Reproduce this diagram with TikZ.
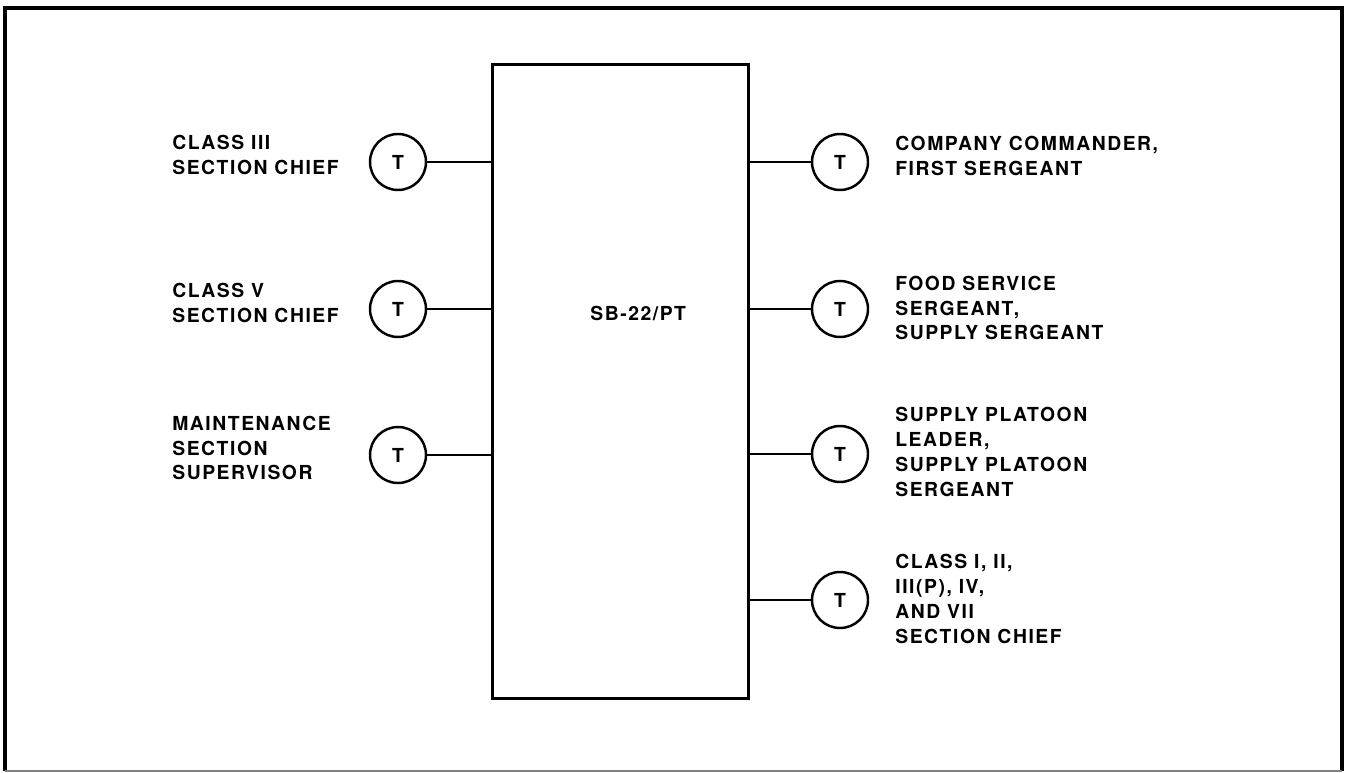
\documentclass[tikz,border=0pt]{standalone}
\usepackage{fontspec}
\setmainfont{TeX Gyre Heros}[LetterSpace=8]
\usetikzlibrary{positioning}
\newcommand{\lblfont}{\fontsize{11}{14.2}\selectfont\bfseries}

\begin{document}
\begin{tikzpicture}[
  x=0.02cm, y=-0.02cm,
  hub/.style={draw, line width=1.7pt, minimum width=5.14cm, minimum height=12.7cm, inner sep=0pt},
  phone/.style={draw, circle, line width=1.4pt, minimum size=1.12cm, inner sep=0pt, font=\lblfont},
  duty/.style={anchor=west, align=left, inner sep=0pt, font=\lblfont},
  wire/.style={line width=1.4pt}
]
\useasboundingbox (0,0) rectangle (1348,773);
% outer frame
\draw[line width=2.2pt] (5,771) -- (5,8) -- (1342,8) -- (1342,771);
\draw[gray, line width=0.6pt] (5,771) -- (1342,771);

% switchboard
\node[hub] (sb) at (620.5,381.5) {};
\node[duty] (sbname) at (590,313) {SB-22/PT};

% left telephones
\node[phone] (tl1) at (398,162) {T};
\node[phone] (tl2) at (398,309) {T};
\node[phone] (tl3) at (398,455) {T};
\node[duty] (ll1) at (172,155) {CLASS III\\SECTION CHIEF};
\node[duty] (ll2) at (172,303) {CLASS V\\SECTION CHIEF};
\node[duty] (ll3) at (172,448) {MAINTENANCE\\SECTION\\SUPERVISOR};

% right telephones
\node[phone] (tr1) at (840,162) {T};
\node[phone] (tr2) at (840,309) {T};
\node[phone] (tr3) at (840,454) {T};
\node[phone] (tr4) at (840,600) {T};
\node[duty] (rl1) at (895,156) {COMPANY COMMANDER,\\FIRST SERGEANT};
\node[duty] (rl2) at (895,308) {FOOD SERVICE\\SERGEANT,\\SUPPLY SERGEANT};
\node[duty] (rl3) at (895,452) {SUPPLY PLATOON\\LEADER,\\SUPPLY PLATOON\\SERGEANT};
\node[duty] (rl4) at (895,599) {CLASS I, II,\\III(P), IV,\\AND VII\\SECTION CHIEF};

\draw[wire] (tl1) -- (tl1 -| sb.west);
\draw[wire] (tl2) -- (tl2 -| sb.west);
\draw[wire] (tl3) -- (tl3 -| sb.west);
\draw[wire] (tr1) -- (tr1 -| sb.east);
\draw[wire] (tr2) -- (tr2 -| sb.east);
\draw[wire] (tr3) -- (tr3 -| sb.east);
\draw[wire] (tr4) -- (tr4 -| sb.east);
\end{tikzpicture}
\end{document}
